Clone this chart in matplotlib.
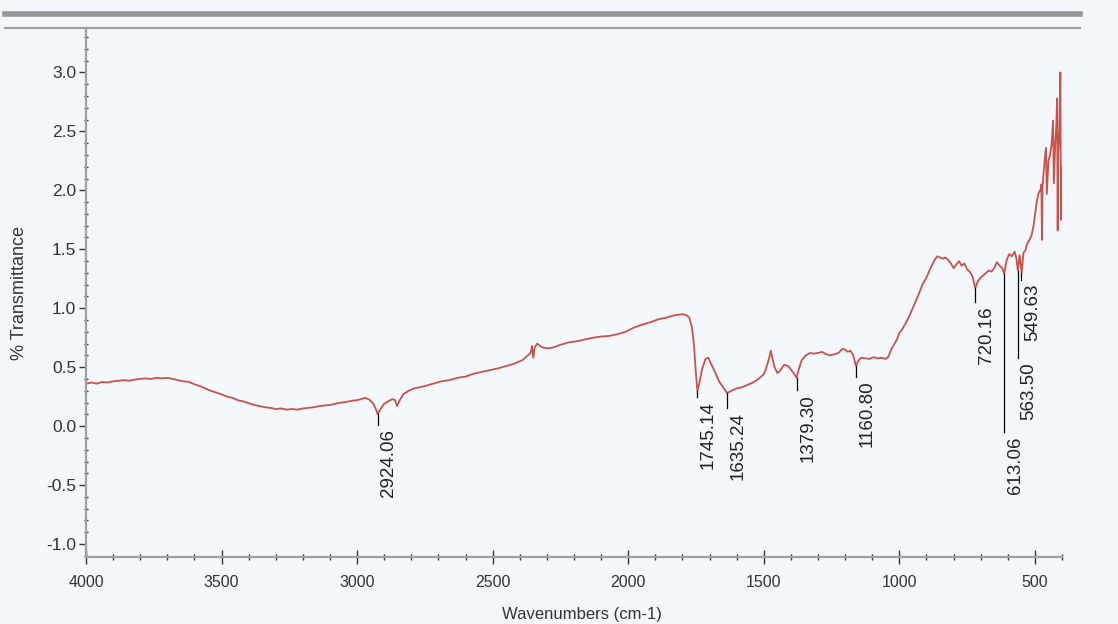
import matplotlib.pyplot as plt
import numpy as np
from matplotlib.lines import Line2D
from matplotlib.ticker import MultipleLocator

# Spectrum (wavenumber cm-1, % transmittance)
wavenumber = [
    4000, 3980, 3960, 3940, 3920, 3900, 3880, 3860, 3840, 3820, 3800, 3780, 3760, 3740, 3720,
    3700, 3680, 3660, 3640, 3620, 3600, 3580, 3560, 3540, 3520, 3500, 3480, 3460, 3440, 3420,
    3400, 3380, 3360, 3340, 3320, 3300, 3280, 3260, 3240, 3220, 3200, 3180, 3160, 3140, 3120,
    3100, 3080, 3060, 3040, 3020, 3000, 2985, 2970, 2955, 2940, 2930, 2924, 2915, 2900, 2885,
    2870, 2860, 2853, 2845, 2830, 2810, 2790, 2770, 2750, 2720, 2690, 2660, 2630, 2600, 2570,
    2540, 2510, 2480, 2450, 2420, 2390, 2370, 2360, 2355, 2350, 2345, 2335, 2320, 2300, 2280,
    2250, 2220, 2190, 2160, 2130, 2100, 2070, 2040, 2010, 1980, 1950, 1920, 1890, 1860, 1830,
    1800, 1785, 1775, 1765, 1758, 1752, 1745, 1738, 1728, 1715, 1705, 1695, 1680, 1665, 1650,
    1635, 1620, 1600, 1580, 1560, 1540, 1520, 1500, 1490, 1480, 1474, 1468, 1460, 1450, 1440,
    1425, 1410, 1400, 1390, 1379, 1370, 1360, 1345, 1330, 1315, 1300, 1285, 1270, 1255, 1240,
    1225, 1210, 1200, 1190, 1180, 1170, 1160, 1150, 1140, 1125, 1110, 1095, 1080, 1065, 1050,
    1040, 1030, 1020, 1010, 1000, 990, 975, 960, 945, 930, 915, 900, 885, 870, 860,
    850, 840, 830, 820, 810, 800, 790, 780, 770, 760, 750, 740, 730, 720, 710,
    700, 690, 680, 670, 660, 650, 640, 630, 620, 613, 605, 595, 585, 575, 568,
    563, 556, 549, 542, 535, 528, 520, 512, 505, 498, 492, 486, 480, 476, 474,
    472, 466, 462, 459, 456, 450, 444, 438, 433, 430, 425, 421, 418, 416, 414,
    410, 406, 404, 402, 400,
]
transmittance = [
    0.36, 0.37, 0.36, 0.375, 0.37, 0.38, 0.385, 0.39, 0.385, 0.395, 0.40, 0.405, 0.40, 0.41, 0.405,
    0.41, 0.40, 0.39, 0.38, 0.375, 0.355, 0.34, 0.32, 0.30, 0.285, 0.27, 0.25, 0.24, 0.22, 0.21,
    0.195, 0.18, 0.17, 0.16, 0.155, 0.145, 0.15, 0.14, 0.145, 0.14, 0.15, 0.155, 0.16, 0.17, 0.175,
    0.18, 0.19, 0.20, 0.205, 0.215, 0.22, 0.23, 0.24, 0.225, 0.19, 0.14, 0.10, 0.14, 0.19, 0.21,
    0.23, 0.22, 0.17, 0.21, 0.27, 0.30, 0.32, 0.33, 0.34, 0.36, 0.38, 0.39, 0.41, 0.42, 0.445,
    0.46, 0.475, 0.49, 0.51, 0.53, 0.56, 0.60, 0.62, 0.68, 0.58, 0.67, 0.70, 0.67, 0.66, 0.665,
    0.69, 0.71, 0.72, 0.735, 0.75, 0.76, 0.765, 0.78, 0.80, 0.835, 0.86, 0.88, 0.905, 0.92, 0.94,
    0.95, 0.94, 0.92, 0.84, 0.70, 0.50, 0.30, 0.36, 0.48, 0.57, 0.58, 0.53, 0.46, 0.38, 0.33,
    0.28, 0.30, 0.32, 0.33, 0.35, 0.37, 0.40, 0.44, 0.50, 0.58, 0.64, 0.57, 0.50, 0.45, 0.47,
    0.52, 0.51, 0.48, 0.45, 0.41, 0.49, 0.56, 0.60, 0.62, 0.615, 0.62, 0.63, 0.61, 0.60, 0.61,
    0.62, 0.655, 0.65, 0.63, 0.64, 0.60, 0.51, 0.56, 0.58, 0.575, 0.57, 0.585, 0.575, 0.58, 0.57,
    0.59, 0.65, 0.69, 0.73, 0.79, 0.82, 0.88, 0.95, 1.03, 1.11, 1.20, 1.26, 1.34, 1.41, 1.44,
    1.43, 1.42, 1.43, 1.41, 1.38, 1.34, 1.37, 1.40, 1.36, 1.38, 1.33, 1.31, 1.27, 1.17, 1.23,
    1.26, 1.28, 1.30, 1.32, 1.31, 1.34, 1.39, 1.36, 1.34, 1.29, 1.40, 1.46, 1.44, 1.48, 1.42,
    1.32, 1.45, 1.30, 1.47, 1.49, 1.55, 1.58, 1.62, 1.70, 1.82, 1.92, 1.98, 2.00, 2.05, 1.58,
    2.03, 2.20, 2.30, 2.36, 1.97, 2.25, 2.30, 2.40, 2.59, 2.06, 2.40, 2.55, 2.78, 1.66, 2.30,
    2.50, 3.00, 1.75, 2.20, 2.17,
]

# Peak picks: label, position, where the marker line starts and ends
peak_labels = ["2924.06", "1745.14", "1635.24", "1379.30", "1160.80",
               "720.16", "613.06", "563.50", "549.63"]
peak_wn = [2924.06, 1745.14, 1635.24, 1379.30, 1160.80, 720.16, 613.06, 563.50, 549.63]
peak_top = [0.10, 0.30, 0.28, 0.41, 0.51, 1.17, 1.29, 1.32, 1.30]
peak_end = [0.01, 0.25, 0.15, 0.31, 0.42, 1.05, -0.05, 0.58, 1.24]

xticks = [4000, 3500, 3000, 2500, 2000, 1500, 1000, 500]
yticks = [-1.0, -0.5, 0.0, 0.5, 1.0, 1.5, 2.0, 2.5, 3.0]

bg = "#f4f7fb"
plt.rcParams["font.family"] = ["Liberation Sans", "DejaVu Sans"]

fig = plt.figure(figsize=(11.18, 6.24), dpi=100, facecolor=bg)
ax = fig.add_axes([86 / 1118, 1 - 557 / 624, (1062 - 86) / 1118, (557 - 30) / 624])
ax.set_facecolor(bg)

ax.plot(wavenumber, transmittance, color="#c9524b", lw=1.3)

for lab, wn, top, end in zip(peak_labels, peak_wn, peak_top, peak_end):
    ax.plot([wn, wn], [top, end], color="black", lw=0.9)
    ax.annotate(lab, (wn, end), xytext=(2, -3), textcoords="offset points",
                rotation=90, ha="left", va="top", fontsize=13.5, color="#222222")

ax.set_xlim(4000, 400)
ax.set_ylim(-1.11, 3.36)
ax.set_xticks(xticks)
ax.set_yticks(yticks)
ax.xaxis.set_minor_locator(MultipleLocator(100))
ax.yaxis.set_minor_locator(MultipleLocator(0.1))
ax.set_yticklabels(["%.1f" % v for v in yticks])
ax.set_xticklabels([str(v) for v in xticks], fontsize=11.5)

for s in ["top", "right"]:
    ax.spines[s].set_visible(False)
for s in ["left", "bottom"]:
    ax.spines[s].set_color("#a0a0a0")
    ax.spines[s].set_linewidth(1.6)

ax.tick_params(axis="y", which="major", direction="out", length=5, width=1,
               color="#333333", labelsize=12.5, labelcolor="#333333", pad=2)
ax.tick_params(axis="y", which="minor", direction="inout", length=2.5, width=1, color="#333333")
ax.tick_params(axis="x", which="major", direction="inout", length=10, width=1,
               color="#333333", labelcolor="#333333", pad=8)
ax.tick_params(axis="x", which="minor", direction="inout", length=4, width=1, color="#333333")

ax.set_ylabel("% Transmittance", fontsize=13, color="#333333", labelpad=13)
ax.set_xlabel("Wavenumbers (cm-1)", fontsize=12, color="#333333")
ax.xaxis.set_label_coords(0.508, -0.095)

# scanner / window border lines across the top
fig.add_artist(Line2D([5 / 1118, 1080 / 1118], [1 - 14 / 624] * 2, color="#868686", lw=4.0, alpha=0.85))
fig.add_artist(Line2D([5 / 1118, 1080 / 1118], [1 - 28 / 624] * 2, color="#a0a0a0", lw=1.6))

fig.savefig("out.png", dpi=100, facecolor=bg)
